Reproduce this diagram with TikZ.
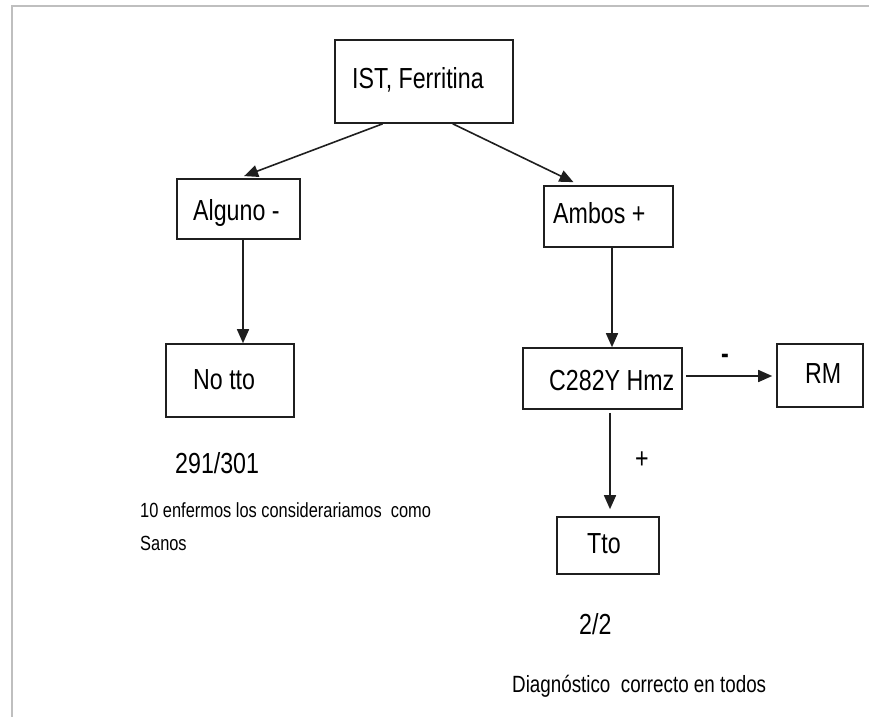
\documentclass[tikz,border=0pt]{standalone}
\usepackage{fontspec}
\setmainfont[FakeStretch=0.8]{Liberation Sans}
\usetikzlibrary{arrows.meta,calc}
\begin{document}
\begin{tikzpicture}[x=1pt,y=-1pt,
  box/.style={draw=black!88,line width=1.6pt,rectangle,inner sep=0pt},
  lbl/.style={inner sep=0pt,anchor=base west,font=\fontsize{29}{33}\selectfont},
  note/.style={inner sep=0pt,anchor=base west},
  arr/.style={draw=black!88,line width=1.6pt,-{Triangle[length=14pt,width=12pt]}},
  frameline/.style={draw=black!25,line width=2pt}]
\useasboundingbox (0,0) rectangle (869,717);
% outer frame
\draw[frameline] (869,6) -- (12,6) -- (12,717);

% boxes
\node[box,minimum width=178pt,minimum height=83pt] (ist)  at (424,81.5) {};
\node[box,minimum width=123pt,minimum height=60pt] (alg)  at (238.5,209) {};
\node[box,minimum width=129pt,minimum height=61pt] (amb)  at (608.5,216.5) {};
\node[box,minimum width=128pt,minimum height=73pt] (nott) at (230,380.5) {};
\node[box,minimum width=159pt,minimum height=61pt] (c282) at (602.5,378.5) {};
\node[box,minimum width=86pt,minimum height=63pt]  (rm)   at (820,375.5) {};
\node[box,minimum width=102pt,minimum height=57pt] (tto)  at (608,545.5) {};

% box texts
\node[lbl] (istt)  at (352,88)  {IST, Ferritina};
\node[lbl] (algt)  at (193,220) {Alguno -};
\node[lbl] (ambt)  at (553,223) {Ambos +};
\node[lbl] (nottt) at (193,389) {No tto};
\node[lbl] (c282t) at (549,390) {C282Y Hmz};
\node[lbl] (rmt)   at (805,383) {RM};
\node[lbl] (ttot)  at (587,553) {Tto};

% free texts
\node[lbl] (r1) at (175,473) {291/301};
\node[note,font=\fontsize{20.5}{24}\selectfont] (n1) at (140,517) {10 enfermos los considerariamos\ \ como};
\node[note,font=\fontsize{20.5}{24}\selectfont] (n2) at (140,550) {Sanos};
\node[lbl] (r2) at (579,634) {2/2};
\node[note,font=\fontsize{23.5}{27}\selectfont] (n3) at (512,692) {Diagnóstico\ \ correcto en todos};

% edge labels
\node[inner sep=0pt,font=\fontsize{29}{33}\selectfont\bfseries] (minus) at (725,359) {-};
\node[inner sep=0pt,font=\fontsize{29}{33}\selectfont] (plus) at (642,460) {+};

% anchor columns for the connectors
\coordinate (colA) at (243,0);
\coordinate (colB) at (612,0);
\coordinate (colC) at (610,0);

% connectors
\draw[arr,shorten >=6pt] ($(ist.south west)!0.27!(ist.south east)$) -- (alg.north);
\draw[arr,shorten >=7pt] ($(ist.south west)!0.66!(ist.south east)$) -- ($(amb.north west)!0.28!(amb.north east)$);
\draw[arr] (alg.south -| colA) -- (nott.north -| colA);
\draw[arr] (amb.south -| colB) -- (c282.north -| colB);
\draw[arr,shorten <=3pt,shorten >=4pt] (c282.east |- 0,376) -- (rm.west |- 0,376);
\draw[arr,shorten <=3pt,shorten >=7pt] (c282.south -| colC) -- (tto.north -| colC);
\end{tikzpicture}
\end{document}
